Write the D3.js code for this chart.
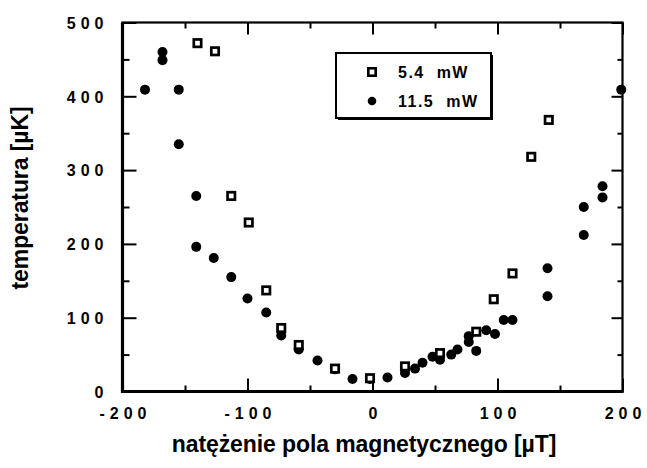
<!DOCTYPE html>
<html>
<head>
<meta charset="utf-8">
<script src="https://cdn.jsdelivr.net/npm/d3@7"></script>
<style>
  html, body { margin: 0; padding: 0; background: #fff; }
  svg { display: block; }
  text { font-family: "Liberation Sans", Arial, Helvetica, sans-serif; font-weight: bold; fill: #000; }
</style>
</head>
<body>
<svg id="chart" width="647" height="468"></svg>
<script>
// Temperature of the atom cloud vs. magnetic field, for two beam powers.
const seriesNames = ["5.4  mW", "11.5  mW"];

// 5.4 mW: [field µT, temperature µK]
const low = [
  [-140, 472], [-126, 461], [-113, 265], [-99, 229], [-85, 137], [-73, 86],
  [-59, 63], [-30, 31], [-2, 18], [26, 34], [54, 52], [83, 81],
  [97, 125], [112, 160], [127, 318], [141, 368]
];

// 11.5 mW: [field µT, temperature µK]
const high = [
  [-182, 409], [-168, 449], [-168, 460], [-155, 409], [-155, 335], [-141, 265],
  [-141, 196], [-127, 181], [-113, 155], [-100, 126], [-85, 107], [-73, 76],
  [-59, 57], [-44, 42], [-30, 30], [-16, 17], [-2, 17], [12, 19],
  [26, 25], [34, 31], [40, 39], [48, 47], [54, 43], [63, 50],
  [68, 57], [77, 67], [77, 75], [83, 55], [91, 83], [98, 78],
  [105, 97], [112, 97], [140, 167], [140, 129], [169, 212], [169, 250],
  [184, 263], [184, 278], [199, 409]
];

const xMajor = [-200, -100, 0, 100, 200];
const xMinor = [-150, -50, 50, 150];
const yMajor = [0, 100, 200, 300, 400, 500];
const yMinor = [50, 150, 250, 350, 450];

const svg = d3.select("#chart");
const L = 122.5, R = 622.5, T = 22.5, B = 391.5;

const x = d3.scaleLinear().domain([-200, 200]).range([L, R]);
const y = d3.scaleLinear().domain([0, 500]).range([B, T]);

// inward ticks on all four sides; plain hyphen for negatives
function ticks(axis, vals, size, labelled) {
  return axis.tickValues(vals).tickSize(-size).tickSizeOuter(0)
    .tickFormat(labelled ? (d => String(d)) : "");
}

const gb = svg.append("g").attr("transform", `translate(0,${B})`)
  .call(ticks(d3.axisBottom(x), xMajor, 13, true).tickPadding(16));
svg.append("g").attr("transform", `translate(0,${B})`)
  .call(ticks(d3.axisBottom(x), xMinor, 6, false));
svg.append("g").attr("transform", `translate(0,${T})`)
  .call(ticks(d3.axisTop(x), xMajor, 12, false));
svg.append("g").attr("transform", `translate(0,${T})`)
  .call(ticks(d3.axisTop(x), xMinor, 6, false));

const gl = svg.append("g").attr("transform", `translate(${L},0)`)
  .call(ticks(d3.axisLeft(y), yMajor, 14, true).tickPadding(14));
svg.append("g").attr("transform", `translate(${L},0)`)
  .call(ticks(d3.axisLeft(y), yMinor, 7, false));
svg.append("g").attr("transform", `translate(${R},0)`)
  .call(ticks(d3.axisRight(y), yMajor, 11, false));
svg.append("g").attr("transform", `translate(${R},0)`)
  .call(ticks(d3.axisRight(y), yMinor, 5, false));

svg.selectAll(".domain").remove();
svg.selectAll(".tick line").attr("stroke", "#000").attr("stroke-width", 2);

gb.selectAll("text")
  .style("font-size", "16px")
  .style("letter-spacing", "5px")
  .attr("dx", "2.5px");
gl.selectAll("text")
  .style("font-size", "16px")
  .style("letter-spacing", "5px")
  .attr("dy", "0.36em");

// frame
svg.append("rect")
  .attr("x", L).attr("y", T).attr("width", R - L).attr("height", B - T)
  .attr("fill", "none").attr("stroke", "#000").attr("stroke-width", 2.2);
svg.append("line").attr("x1", L).attr("x2", L).attr("y1", T).attr("y2", B + 1.5)
  .attr("stroke", "#000").attr("stroke-width", 3.2);
svg.append("line").attr("x1", L - 1.5).attr("x2", R + 1).attr("y1", B).attr("y2", B)
  .attr("stroke", "#000").attr("stroke-width", 3.2);

// data marks
const plot = svg.append("g");
const sq = 7.4;
plot.selectAll("circle.high").data(high).join("circle")
  .attr("class", "high")
  .attr("cx", d => x(d[0])).attr("cy", d => y(d[1])).attr("r", 5)
  .attr("fill", "#000");
plot.selectAll("rect.low").data(low).join("rect")
  .attr("class", "low")
  .attr("x", d => x(d[0]) - sq / 2).attr("y", d => y(d[1]) - sq / 2)
  .attr("width", sq).attr("height", sq)
  .attr("fill", "#fff").attr("stroke", "#000").attr("stroke-width", 2.7);

// legend
const lg = svg.append("g");
lg.append("rect").attr("x", 338).attr("y", 55).attr("width", 155).attr("height", 65)
  .attr("fill", "#000");
lg.append("rect").attr("x", 336).attr("y", 53).attr("width", 155).attr("height", 65)
  .attr("fill", "#fff").attr("stroke", "#000").attr("stroke-width", 2);
lg.append("rect").attr("x", 372 - sq / 2).attr("y", 72 - sq / 2)
  .attr("width", sq).attr("height", sq)
  .attr("fill", "#fff").attr("stroke", "#000").attr("stroke-width", 2.6);
lg.append("circle").attr("cx", 372).attr("cy", 101).attr("r", 4.3).attr("fill", "#000");
lg.selectAll("text.lab").data(seriesNames).join("text")
  .attr("class", "lab")
  .attr("x", 398).attr("y", (d, i) => 77.5 + i * 29)
  .style("font-size", "16px")
  .style("letter-spacing", "1.5px")
  .style("white-space", "pre")
  .text(d => d);

// axis titles
svg.append("text")
  .attr("x", 364).attr("y", 452)
  .attr("text-anchor", "middle")
  .style("font-size", "23px")
  .style("letter-spacing", "-0.1px")
  .text("natężenie pola magnetycznego [µT]");
svg.append("text")
  .attr("transform", "translate(28,198) rotate(-90)")
  .attr("text-anchor", "middle")
  .style("font-size", "23px")
  .style("letter-spacing", "-0.1px")
  .text("temperatura [µK]");
</script>
</body>
</html>
